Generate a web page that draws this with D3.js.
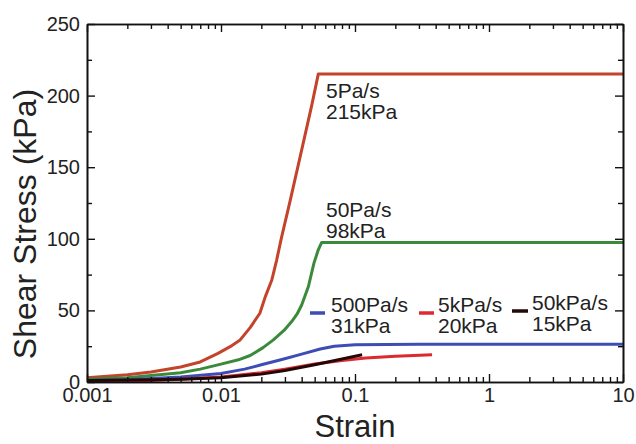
<!DOCTYPE html>
<html>
<head>
<meta charset="utf-8">
<script src="https://cdn.jsdelivr.net/npm/d3@7/dist/d3.min.js"></script>
<style>
  html, body { margin: 0; padding: 0; background: #fff; }
  svg { display: block; }
  text { font-family: "Liberation Sans", Arial, Helvetica, sans-serif; fill: #222; }
</style>
</head>
<body>
<svg id="chart" width="636" height="444"></svg>
<script>
// Shear stress vs. strain for five loading rates
const xTicks = [0.001, 0.01, 0.1, 1, 10];
const xTickLabels = ["0.001", "0.01", "0.1", "1", "10"];
const yTicks = [0, 50, 100, 150, 200, 250];
const yMinorTicks = [25, 75, 125, 175, 225];

// [strain, shear stress in kPa]
const rate5Pa = [[0.001,3],[0.002,5],[0.003,7],[0.005,10.5],[0.007,14],[0.0095,20],[0.0117,24.7],
  [0.0139,29.4],[0.0165,38],[0.0195,48],[0.0215,60],[0.0239,71],[0.026,85],[0.0283,101],
  [0.0327,126],[0.0389,157],[0.0475,193],[0.0532,215],[10,215]];
const rate50Pa = [[0.001,2],[0.002,3],[0.003,4.5],[0.005,6.5],[0.007,9],[0.01,12.5],[0.0135,15.5],
  [0.0165,18.5],[0.0206,24],[0.0246,29.4],[0.0295,36],[0.0337,42.2],[0.037,47.5],[0.040,53.8],
  [0.0449,66.7],[0.0494,83],[0.0532,92.3],[0.0564,97.5],[10,97.5]];
const rate500Pa = [[0.001,1],[0.002,1.5],[0.005,3.5],[0.01,6],[0.015,9],[0.02,12],[0.028,15.5],
  [0.04,19.5],[0.055,23],[0.07,25],[0.1,26],[0.3,26.3],[1,26.3],[10,26.3]];
const rate5kPa = [[0.001,0.5],[0.003,1],[0.005,2],[0.01,3.5],[0.02,6.5],[0.03,9],[0.05,12.5],
  [0.08,15],[0.12,16.8],[0.2,18],[0.376,19]];
const rate50kPa = [[0.001,1],[0.003,1.5],[0.005,2],[0.01,3],[0.02,5.5],[0.03,8],[0.05,12],
  [0.08,16],[0.113,19]];

const seriesNames = ["5Pa/s", "50Pa/s", "500Pa/s", "5kPa/s", "50kPa/s"];
const seriesPeaks = ["215kPa", "98kPa", "31kPa", "20kPa", "15kPa"];
const seriesData = [rate5Pa, rate50Pa, rate500Pa, rate5kPa, rate50kPa];
const seriesColors = ["#c4432b", "#3b8a3b", "#3d4db3", "#dc2a30", "#240808"];

const svg = d3.select("#chart");
const plotL = 87, plotR = 623, plotT = 24, plotB = 382;

const x = d3.scaleLog().domain([0.001, 10]).range([plotL, plotR]);
const y = d3.scaleLinear().domain([0, 250]).range([plotB, plotT]);

const minorX = x.ticks().filter(v => !xTicks.some(t => Math.abs(t - v) < 1e-12));
const fmt = v => xTickLabels[xTicks.findIndex(t => Math.abs(t - v) < 1e-12)];

// curves
const line = d3.line().x(d => x(d[0])).y(d => y(d[1]));
const order = [0, 1, 2, 3, 4];
svg.append("g").selectAll("path").data(order).join("path")
  .attr("d", i => line(seriesData[i]))
  .attr("fill", "none")
  .attr("stroke", i => seriesColors[i])
  .attr("stroke-width", 3)
  .attr("stroke-linejoin", "round");

// axes: ticks point inward on all four sides
function styleAxis(g) {
  g.selectAll("path.domain").attr("stroke", "#111").attr("stroke-width", 1.6);
  g.selectAll(".tick line").attr("stroke", "#111").attr("stroke-width", 1.4);
  g.selectAll("text").attr("font-size", 20).attr("fill", "#222")
    .attr("font-family", "'Liberation Sans', Arial, Helvetica, sans-serif");
}

svg.append("g").attr("transform", `translate(0,${plotB})`)
  .call(d3.axisBottom(x).tickValues(minorX).tickSize(-5).tickSizeOuter(0).tickFormat(""))
  .call(styleAxis);
svg.append("g").attr("transform", `translate(0,${plotB})`)
  .call(d3.axisBottom(x).tickValues(xTicks).tickSize(-8).tickSizeOuter(0).tickPadding(6).tickFormat(fmt))
  .call(styleAxis);
svg.append("g").attr("transform", `translate(0,${plotT})`)
  .call(d3.axisTop(x).tickValues(minorX).tickSize(-5).tickSizeOuter(0).tickFormat(""))
  .call(styleAxis);
svg.append("g").attr("transform", `translate(0,${plotT})`)
  .call(d3.axisTop(x).tickValues(xTicks).tickSize(-8).tickSizeOuter(0).tickFormat(""))
  .call(styleAxis);

svg.append("g").attr("transform", `translate(${plotL},0)`)
  .call(d3.axisLeft(y).tickValues(yMinorTicks).tickSize(-5).tickSizeOuter(0).tickFormat(""))
  .call(styleAxis);
svg.append("g").attr("transform", `translate(${plotL},0)`)
  .call(d3.axisLeft(y).tickValues(yTicks).tickSize(-8).tickSizeOuter(0).tickPadding(7).tickFormat(d3.format("d")))
  .call(styleAxis);
svg.append("g").attr("transform", `translate(${plotR},0)`)
  .call(d3.axisRight(y).tickValues(yMinorTicks).tickSize(-5).tickSizeOuter(0).tickFormat(""))
  .call(styleAxis);
svg.append("g").attr("transform", `translate(${plotR},0)`)
  .call(d3.axisRight(y).tickValues(yTicks).tickSize(-8).tickSizeOuter(0).tickFormat(""))
  .call(styleAxis);

// axis titles
svg.append("text").attr("x", (plotL + plotR) / 2).attr("y", 437)
  .attr("text-anchor", "middle").attr("font-size", 31).text("Strain");
svg.append("text").attr("transform", "translate(36,224) rotate(-90)")
  .attr("text-anchor", "middle").attr("font-size", 32).text("Shear Stress (kPa)");

// direct labels for the two slow rates
const annos = [
  { i: 0, x: 326, y: 98 },
  { i: 1, x: 326, y: 217 }
];
annos.forEach(a => {
  const t = svg.append("text").attr("x", a.x).attr("y", a.y).attr("font-size", 21);
  t.append("tspan").attr("x", a.x).text(seriesNames[a.i]);
  t.append("tspan").attr("x", a.x).attr("dy", 21).text(seriesPeaks[a.i]);
});

// legend for the three fast rates
const legend = [
  { i: 2, x1: 310, x2: 325, ty: 312, tx: 331 },
  { i: 3, x1: 419, x2: 434, ty: 312, tx: 438 },
  { i: 4, x1: 512, x2: 528, ty: 310, tx: 532 }
];
legend.forEach(l => {
  svg.append("line").attr("x1", l.x1).attr("x2", l.x2)
    .attr("y1", l.ty + 1).attr("y2", l.ty + 1)
    .attr("stroke", seriesColors[l.i]).attr("stroke-width", 3.5);
  const t = svg.append("text").attr("x", l.tx).attr("y", l.ty).attr("font-size", 21);
  t.append("tspan").attr("x", l.tx).text(seriesNames[l.i]);
  t.append("tspan").attr("x", l.tx).attr("dy", 21).text(seriesPeaks[l.i]);
});
</script>
</body>
</html>
